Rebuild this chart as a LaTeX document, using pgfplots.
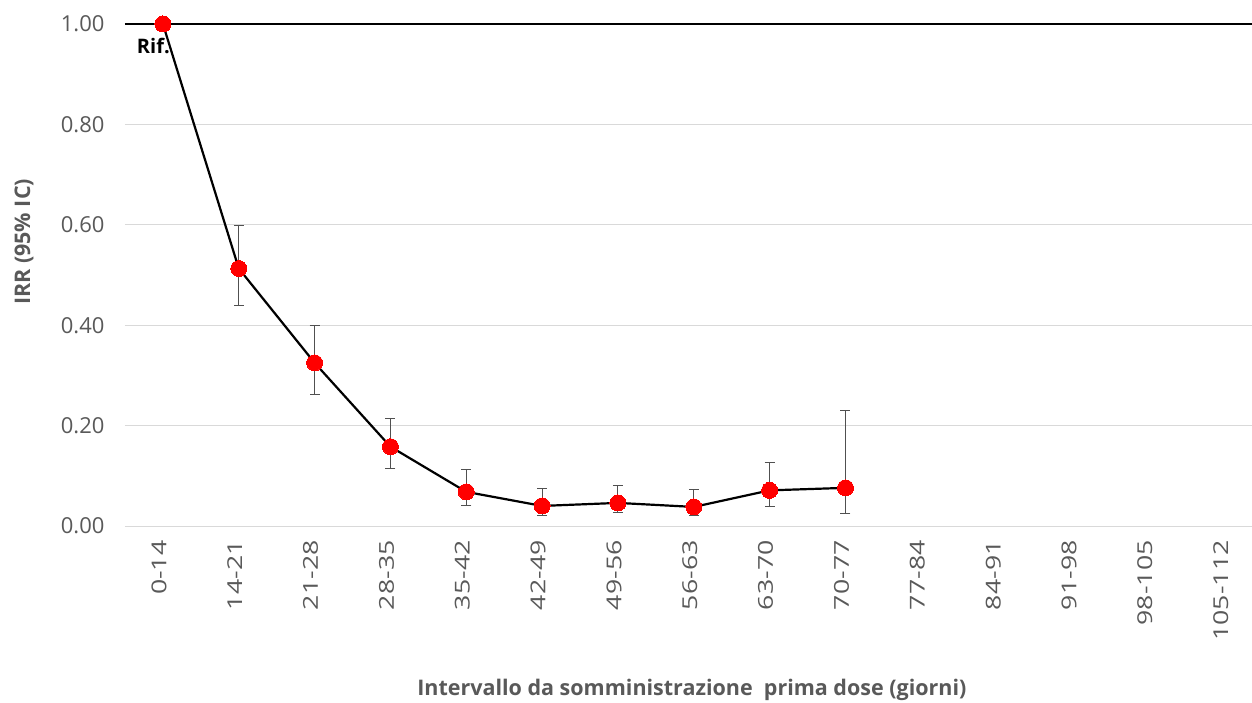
\documentclass[border=0pt]{standalone}
\usepackage{fontspec}
\setmainfont{Open Sans}
\newfontfamily\xtfont[FakeStretch=1.3]{Open Sans}
\usepackage{pgfplots}
\pgfplotsset{compat=1.18}
\usepackage{pgfplotstable}
\definecolor{txt}{HTML}{595959}
\definecolor{gridc}{HTML}{D9D9D9}
\definecolor{ebar}{HTML}{505050}
\definecolor{ptred}{HTML}{FF0000}

\pgfplotstableread{
x y ep em
1 0.513 0.085 0.074
2 0.325 0.075 0.063
3 0.158 0.057 0.044
4 0.068 0.045 0.028
5 0.040 0.034 0.020
6 0.046 0.034 0.020
7 0.038 0.034 0.018
8 0.071 0.055 0.033
9 0.076 0.154 0.052
}\ci

\pgfplotstableread{
x y
0 1.000
1 0.513
2 0.325
3 0.158
4 0.068
5 0.040
6 0.046
7 0.038
8 0.071
9 0.076
}\irr

\begin{document}
\begin{tikzpicture}
\begin{axis}[
  width=1127pt, height=526pt, scale only axis,
  xmin=-0.5, xmax=14.36, ymin=0, ymax=1.0478,
  clip=false,
  axis line style={draw=none},
  ytick={0,0.2,0.4,0.6,0.8,1.0},
  ymajorgrids, grid style={gridc, line width=1pt},
  xtick={0,...,14},
  xticklabels={0-14,14-21,21-28,28-35,35-42,42-49,49-56,56-63,63-70,70-77,77-84,84-91,91-98,98-105,105-112},
  tick style={draw=none},
  yticklabel style={font=\fontsize{22}{26}\selectfont, text=txt, xshift=-17pt,
    /pgf/number format/fixed, /pgf/number format/fixed zerofill,
    /pgf/number format/precision=2, /pgf/number format/assume math mode=true},
  xticklabel style={rotate=90, anchor=east, font=\xtfont\fontsize{20.5}{23}\selectfont, text=txt, yshift=4pt, xshift=-11pt},
  ylabel={IRR (95\% IC)},
  ylabel style={at={(axis description cs:-0.0896,0.54)}, anchor=center, rotate=0,
    font=\bfseries\fontsize{21.5}{25}\selectfont, text=txt},
  xlabel={Intervallo da somministrazione\ \ prima dose (giorni)},
  xlabel style={at={(axis description cs:0.503,-0.312)}, anchor=center,
    font=\bfseries\fontsize{21.5}{25}\selectfont, text=txt},
]
\draw[black, line width=2.5pt] (rel axis cs:0,0.9544) -- (rel axis cs:1,0.9544);
\addplot[draw=none, mark=none, forget plot,
  error bars/.cd, y dir=both, y explicit,
  error bar style={ebar, line width=1pt},
  error mark options={ebar, rotate=90, mark size=5pt, line width=1pt}]
  table[x=x, y=y, y error plus=ep, y error minus=em] {\ci};
\addplot[black, line width=2.2pt, mark=*, mark size=8pt,
  mark options={fill=ptred, draw=ptred, line width=0pt}]
  table[x=x, y=y] {\irr};
\node[anchor=north east, inner sep=0pt, font=\bfseries\fontsize{20}{24}\selectfont, text=black,
  xshift=7pt, yshift=-14pt] at (axis cs:0,1) {Rif.};
\end{axis}
\pgfresetboundingbox
\path[use as bounding box] ([xshift=-125pt,yshift=-176pt]current axis.south west) rectangle (current axis.north east);
\end{tikzpicture}
\end{document}
